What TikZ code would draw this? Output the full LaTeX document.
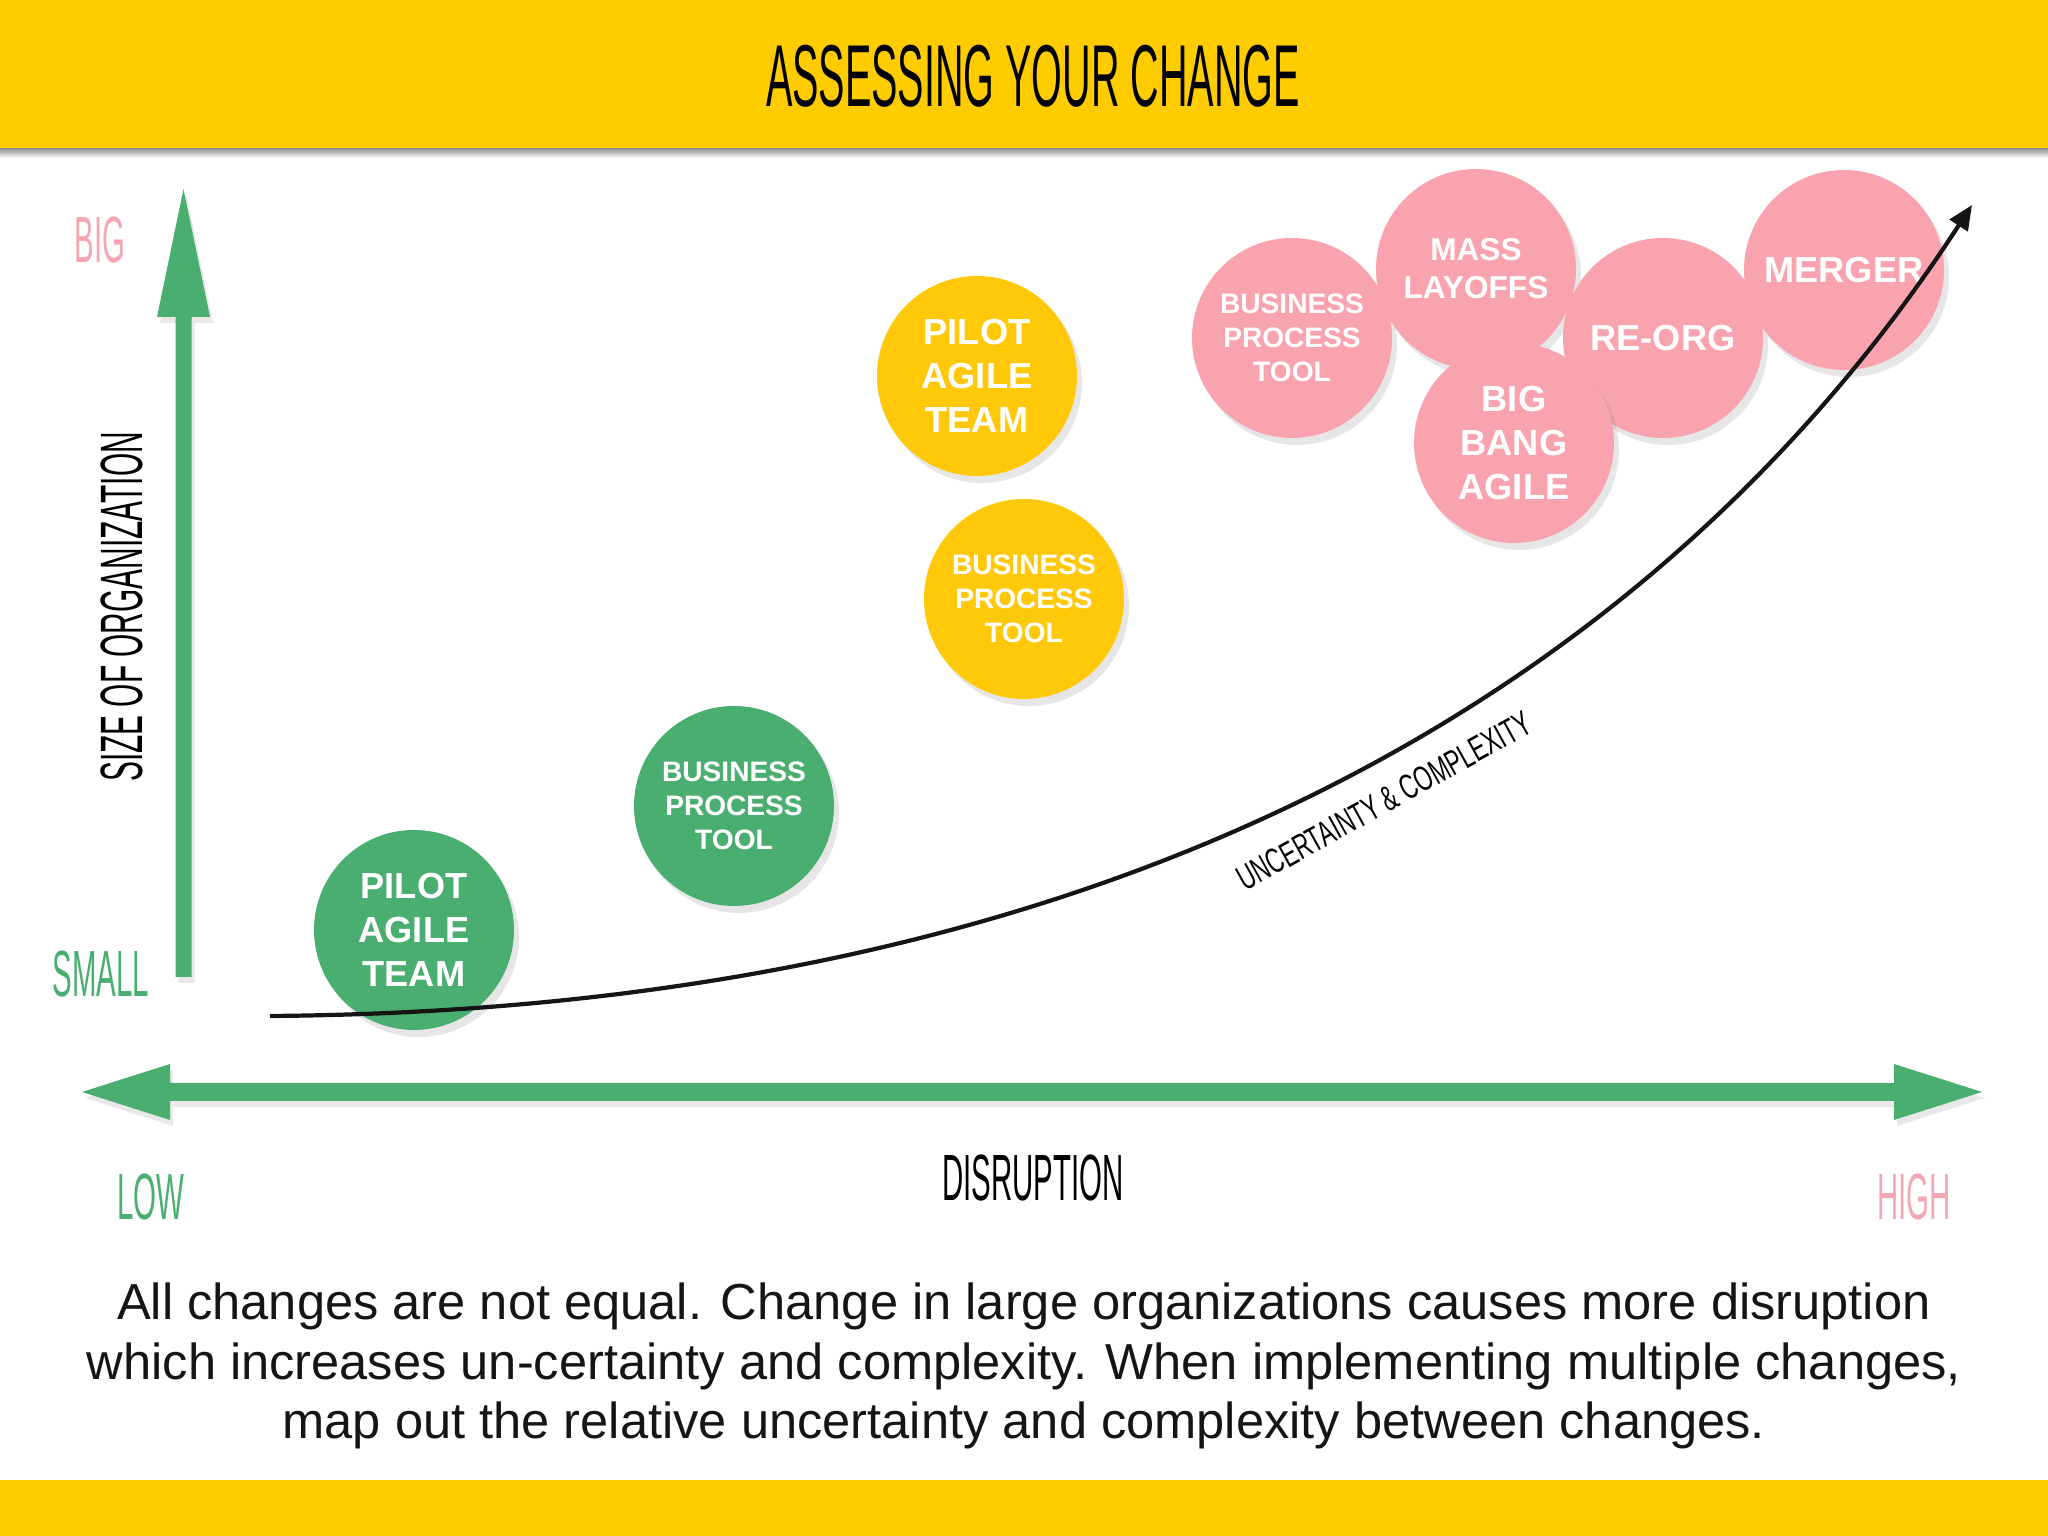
\documentclass[tikz,border=0pt]{standalone}
\usepackage{fontspec}
\setmainfont{Liberation Sans}
\setsansfont{Liberation Sans}
\newfontfamily\handfont{Liberation Sans}[FakeStretch=0.45]
\newfontfamily\handfontmid{Liberation Sans}[FakeStretch=0.5]
\newfontfamily\handfontwide{Liberation Sans}[FakeStretch=0.64]
\definecolor{banner}{HTML}{FFCC00}
\definecolor{calm}{HTML}{4BAE71}
\definecolor{sunny}{HTML}{FFC90A}
\definecolor{alarm}{HTML}{F8A3AD}
\definecolor{softpink}{HTML}{F4A7B3}
\definecolor{ink}{HTML}{151515}
\usetikzlibrary{shadows, arrows.meta, calc}

\begin{document}
\begin{tikzpicture}[every node/.style={font=\sffamily},
  bubble/.style={circle, minimum size=2cm, inner sep=0pt, align=center, text=white,
    drop shadow={shadow xshift=0.05cm, shadow yshift=-0.07cm, opacity=0.2}},
  bubblebig/.style={bubble, font=\bfseries\fontsize{10.3}{12.6}\selectfont},
  bubblemid/.style={bubble, font=\bfseries\fontsize{9}{10.8}\selectfont},
  bubblesmall/.style={bubble, font=\bfseries\fontsize{8}{9.7}\selectfont},
  handlabel/.style={font=\handfont\fontsize{18.6}{22}\selectfont},
  axisshadow/.style={drop shadow={shadow xshift=0.03cm, shadow yshift=-0.06cm, opacity=0.18}}]

  \useasboundingbox (0,0) rectangle (20.48,15.36);

  % Banners
  \shade[top color=black!45, bottom color=white] (0,13.78) rectangle (20.48,13.88);
  \fill[banner] (0,13.88) rectangle (20.48,15.36);
  \fill[banner] (0,0) rectangle (20.48,0.56);
  \node[font=\handfont\fontsize{25}{30}\selectfont] (title) at (10.33,14.60)
    {ASSESSING YOUR CHANGE};

  % Axes
  \fill[calm, axisshadow] (1.755,5.59) -- (1.755,12.19) -- (1.57,12.19) -- (1.835,13.47)
    -- (2.10,12.19) -- (1.915,12.19) -- (1.915,5.59) -- cycle;
  \fill[calm, axisshadow] (0.82,4.44) -- (1.70,4.72) -- (1.70,4.53) -- (18.94,4.53)
    -- (18.94,4.72) -- (19.82,4.44) -- (18.94,4.16) -- (18.94,4.35) -- (1.70,4.35)
    -- (1.70,4.16) -- cycle;

  \node[handlabel, text=softpink] (big) at (1.00,12.96) {BIG};
  \node[handlabel, text=calm] (small) at (1.01,5.62) {SMALL};
  \node[font=\handfontmid\fontsize{17}{20}\selectfont, rotate=90] (size) at (1.22,9.29)
    {SIZE OF ORGANIZATION};
  \node[handlabel, text=calm] (low) at (1.51,3.39) {LOW};
  \node[handlabel] (disruption) at (10.33,3.58) {DISRUPTION};
  \node[handlabel, text=softpink] (high) at (19.14,3.39) {HIGH};

  % Changes
  \node[bubblebig, fill=calm] (pilotlow) at (4.14,6.06) {PILOT\\AGILE\\TEAM};
  \node[bubblesmall, fill=calm] (toollow) at (7.34,7.30) {BUSINESS\\PROCESS\\TOOL};
  \node[bubblebig, fill=sunny] (pilotmid) at (9.77,11.60) {PILOT\\AGILE\\TEAM};
  \node[bubblesmall, fill=sunny] (toolmid) at (10.24,9.37) {BUSINESS\\PROCESS\\TOOL};
  \node[bubblesmall, fill=alarm] (toolhigh) at (12.92,11.98) {BUSINESS\\PROCESS\\TOOL};
  \node[bubblemid, fill=alarm] (layoffs) at (14.76,12.67) {MASS\\LAYOFFS};
  \node[bubblebig, fill=alarm] (reorg) at (16.63,11.98) {RE-ORG};
  \node[bubblebig, fill=alarm] (bigbang) at (15.14,10.93) {BIG\\BANG\\AGILE};
  \node[bubblebig, fill=alarm] (merger) at (18.44,12.66) {MERGER};

  % Rising curve
  \coordinate (risestart) at (2.70,5.20);
  \coordinate (riseend) at (19.72,13.31);
  \draw[ink, line width=1.2pt, -{Triangle[length=7pt, width=6pt]}]
    (risestart) .. controls (11.00,5.26) and (16.50,8.36) .. (riseend);
  \node[font=\handfontwide\fontsize{10}{11}\selectfont, rotate=29] (riselabel) at (13.84,7.35)
    {UNCERTAINTY \& COMPLEXITY};

  \node[align=center, text=ink, font=\fontsize{14.4}{17}\selectfont] (caption) at (10.24,1.70)
    {All changes are not equal. Change in large organizations causes more disruption\\
     which increases un-certainty and complexity. When implementing multiple changes,\\
     map out the relative uncertainty and complexity between changes.};
\end{tikzpicture}
\end{document}
